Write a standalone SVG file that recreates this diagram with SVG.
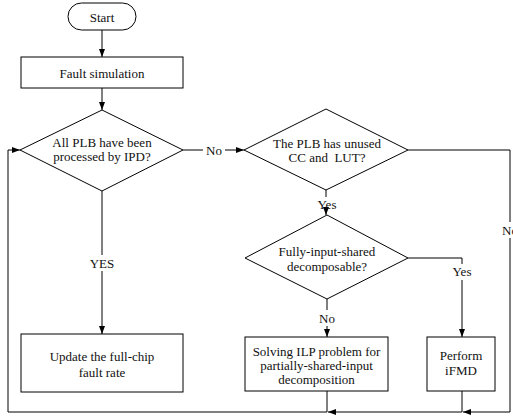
<svg xmlns="http://www.w3.org/2000/svg" width="513" height="419" viewBox="0 0 513 419">
<style>
.n{fill:#fff;stroke:#000;stroke-width:1}
.c{fill:none;stroke:#000;stroke-width:1}
.a{marker-end:url(#ah)}
.t{font-size:13px;fill:#111;text-anchor:middle}
</style>
<defs>
<marker id="ah" markerUnits="userSpaceOnUse" markerWidth="8" markerHeight="6" refX="8" refY="3" orient="auto">
<path d="M0,0 L8,3 L0,6 z" fill="#000"/>
</marker>
</defs>
<rect width="513" height="419" fill="#fff"/>
<g font-family="'Liberation Serif', 'Times New Roman', 'DejaVu Serif', serif">
<g id="connectors">
<line class="c a" x1="102" y1="30" x2="102" y2="57"/>
<line class="c a" x1="102" y1="88" x2="102" y2="110"/>
<line class="c" x1="183" y1="150" x2="203" y2="150"/>
<line class="c a" x1="225" y1="150" x2="244" y2="150"/>
<text class="t" x="214" y="154.5">No</text>
<line class="c" x1="102" y1="191" x2="102" y2="255"/>
<line class="c a" x1="102" y1="271" x2="102" y2="334"/>
<text class="t" x="102" y="267.5">YES</text>
<line class="c" x1="326" y1="190" x2="326" y2="197"/>
<line class="c a" x1="326" y1="211" x2="326" y2="215"/>
<text class="t" x="327" y="209">Yes</text>
<polyline class="c" points="408,258 462,258 462,264"/>
<line class="c a" x1="462" y1="280" x2="462" y2="337"/>
<text class="t" x="462" y="275.5">Yes</text>
<line class="c" x1="327" y1="299" x2="327" y2="310"/>
<line class="c a" x1="327" y1="326" x2="327" y2="337"/>
<text class="t" x="327" y="322.5">No</text>
<polyline class="c" points="408,150 510,150 510,222"/>
<line class="c" x1="510" y1="238" x2="510" y2="412"/>
<text class="t" x="502" y="234.5" style="text-anchor:start">No</text>
<line class="c" x1="327" y1="391" x2="327" y2="412"/>
<line class="c" x1="462" y1="391" x2="462" y2="412"/>
<line class="c a" x1="510" y1="412" x2="463" y2="412"/>
<line class="c a" x1="462" y1="412" x2="328" y2="412"/>
<polyline class="c" points="327,412 8,412 8,150"/>
<line class="c a" x1="8" y1="150" x2="20" y2="150"/>
</g>
<g id="start">
<rect class="n" x="68" y="3" width="68" height="27" rx="13.5"/>
<text class="t" x="102" y="21.5">Start</text>
</g>
<g id="fault-simulation">
<rect class="n" x="21" y="57" width="162" height="31"/>
<text class="t" x="102" y="77.5">Fault simulation</text>
</g>
<g id="all-plb-processed">
<polygon class="n" points="102,110 183,150 102,191 20,150"/>
<text class="t" x="102" y="147">All PLB have been</text>
<text class="t" x="102" y="161">processed by IPD?</text>
</g>
<g id="plb-unused">
<polygon class="n" points="326,109 408,150 326,190 244,150"/>
<text class="t" x="327" y="147.5">The PLB has unused</text>
<text class="t" x="327" y="161.5" xml:space="preserve">CC and  LUT?</text>
</g>
<g id="fully-input-shared">
<polygon class="n" points="327,215 408,258 327,299 245,258"/>
<text class="t" x="327" y="255.5">Fully-input-shared</text>
<text class="t" x="327" y="270.5">decomposable?</text>
</g>
<g id="update-fault-rate">
<rect class="n" x="21" y="334" width="162" height="58"/>
<text class="t" x="102" y="360.5">Update the full-chip</text>
<text class="t" x="102" y="376.5">fault rate</text>
</g>
<g id="solving-ilp">
<rect class="n" x="245" y="337" width="143" height="54"/>
<text class="t" x="316.5" y="355.5">Solving ILP problem for</text>
<text class="t" x="316.5" y="369.5">partially-shared-input</text>
<text class="t" x="316.5" y="383.5">decomposition</text>
</g>
<g id="perform-ifmd">
<rect class="n" x="427" y="337" width="68" height="54"/>
<text class="t" x="461" y="360">Perform</text>
<text class="t" x="461" y="374.5">iFMD</text>
</g>
</g>
</svg>
